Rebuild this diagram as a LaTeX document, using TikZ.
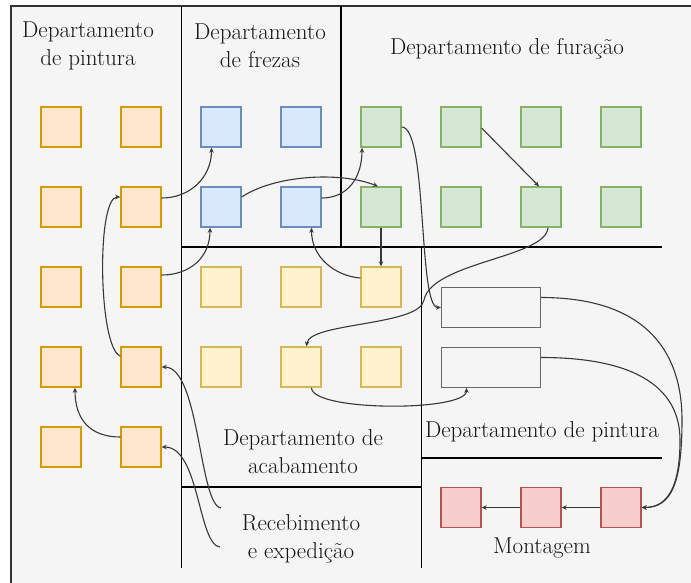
\documentclass[tikz,border=0pt]{standalone}
\usepackage{fontspec}
\usetikzlibrary{arrows.meta,calc}

\definecolor{bgfill}{HTML}{F5F5F5}
\definecolor{orgF}{HTML}{FFE6CC}\definecolor{orgD}{HTML}{D79B00}
\definecolor{bluF}{HTML}{DAE8FC}\definecolor{bluD}{HTML}{6C8EBF}
\definecolor{grnF}{HTML}{D5E8D4}\definecolor{grnD}{HTML}{82B366}
\definecolor{ylwF}{HTML}{FFF2CC}\definecolor{ylwD}{HTML}{D6B656}
\definecolor{redF}{HTML}{F8CECC}\definecolor{redD}{HTML}{B85450}
\definecolor{gryD}{HTML}{666666}

\begin{document}
\begin{tikzpicture}[x=1pt,y=-1pt,
  sq/.style={minimum size=40pt, line width=1.4pt, inner sep=0pt},
  orng/.style={sq, draw=orgD, fill=orgF},
  blu/.style={sq, draw=bluD, fill=bluF},
  grn/.style={sq, draw=grnD, fill=grnF},
  ylw/.style={sq, draw=ylwD, fill=ylwF},
  rd/.style={sq, draw=redD, fill=redF},
  station/.style={minimum width=99pt, minimum height=39.5pt, line width=1.2pt, draw=gryD, inner sep=0pt},
  conn/.style={line width=1.1pt, draw=black!78, -{Stealth[length=5pt,width=4.5pt]}},
  wall/.style={line width=1.6pt, draw=black},
  lbl/.style={font=\fontsize{23}{28}\selectfont, text=black!92, align=center, inner sep=0pt}
]
\useasboundingbox (0,0) rectangle (691,582);
\clip (0,0) rectangle (691,582);
\fill[white] (0,0) rectangle (691,582);
\draw[line width=1.6pt, draw=black!80, fill=bgfill] (11,6) rectangle (710,600);

% department walls
\draw[wall] (181.5,6) -- (181.5,568);
\draw[wall] (341,6) -- (341,247);
\draw[wall] (181.5,247) -- (662,247);
\draw[wall] (421.5,247) -- (421.5,568);
\draw[wall] (181.5,487) -- (421.5,487);
\draw[wall] (421.5,458) -- (662,458);

% painting machines
\foreach \r/\y in {1/127,2/207,3/287,4/367,5/447}{
  \node[orng] (o\r1) at (61,\y) {};
  \node[orng] (o\r2) at (141,\y) {};
}
% milling machines
\node[blu] (b11) at (221,127) {};
\node[blu] (b12) at (301,127) {};
\node[blu] (b21) at (221,207) {};
\node[blu] (b22) at (301,207) {};
% drilling machines
\foreach \c/\x in {1/381,2/461,3/541,4/621}{
  \node[grn] (g1\c) at (\x,127) {};
  \node[grn] (g2\c) at (\x,207) {};
}
% finishing machines
\foreach \c/\x in {1/221,2/301,3/381}{
  \node[ylw] (y1\c) at (\x,287) {};
  \node[ylw] (y2\c) at (\x,367) {};
}
% painting stations
\node[station] (p1) at (491,307.5) {};
\node[station] (p2) at (491,367.5) {};
% assembly
\node[rd] (r1) at (461,507.5) {};
\node[rd] (r2) at (541,507.5) {};
\node[rd] (r3) at (621,507.5) {};

% labels
\node[lbl] (t1) at (88,46) {Departamento\\de pintura};
\node[lbl] (t2) at (260,46) {Departamento\\de frezas};
\node[lbl] (t3) at (507,49) {Departamento de furação};
\node[lbl] (t4) at (303,452) {Departamento de\\acabamento};
\node[lbl] (t5) at (301,539) {Recebimento\\e expedição};
\node[lbl] (t6) at (542,432) {Departamento de pintura};
\node[lbl] (t7) at (542,548) {Montagem};

% material flow
\coordinate (k0) at (221,508);
\coordinate (l0) at (220,547);
\coordinate (iw) at (424,300);
\coordinate (ow) at (682,420);
\coordinate (pw) at (680,440);

\draw[conn] ($(o22.east)+(0,-9)$) .. controls +(28,0) and +(0,30) .. ($(b11.south)+(-9.5,0)$);
\draw[conn] ($(o32.east)+(0,-12)$) .. controls +(28,0) and +(0,30) .. ($(b21.south)+(-11,0)$);
\draw[conn] ($(o42.west)+(0,-11)$) .. controls +(-22,-8) and +(-24,0) .. ($(o22.west)+(0,-10)$);
\draw[conn] ($(b22.east)+(0,-9)$) .. controls +(26,0) and +(0,30) .. ($(g11.south)+(-19,0)$);
\draw[conn] ($(b21.east)+(0,-10)$) .. controls +(33,-22) and +(-38,-15) .. ($(g21.north)+(-3,0)$);
\draw[conn] ($(y13.west)+(0,-9)$) .. controls +(-25,-2) and +(0,30) .. ($(b22.south)+(10.5,0)$);
\draw[conn] (g21.south) -- (y13.north);
\draw[conn] (g11.east) .. controls +(26,0) and +(-23,0) .. (p1.west);
\draw[conn] ($(g23.south)+(7,0)$) .. controls +(-2,30) and +(8,-38) .. (iw)
  .. controls +(-4,26) and +(3,-24) .. ($(y22.north)+(5.5,0)$);
\draw[conn] (k0) .. controls +(-22,-3) and +(38,0) .. (o42.east);
\draw[conn] (l0) .. controls +(-22,-2) and +(38,0) .. (o52.east);
\draw[conn] ($(o52.west)+(0,-10)$) .. controls +(-30,0) and +(0,32) .. ($(o41.south)+(14,0)$);
\draw[conn] ($(y22.south)+(10.5,0)$) .. controls +(0,24) and +(0,24) .. ($(p2.south)+(-24.5,0)$);
\draw[conn] ($(p1.east)+(0,-10)$) .. controls +(103,0) and +(0,-70) .. (ow)
  .. controls +(0,65) and +(29,0) .. (r3.east);
\draw[conn] ($(p2.east)+(0,-10)$) .. controls +(98,0) and +(0,-50) .. (pw)
  .. controls +(0,45) and +(27,0) .. (r3.east);
\draw[conn] ($(g12.east)+(0,1)$) -- ($(g23.north)+(-2,0)$);
\draw[conn] (r3.west) -- (r2.east);
\draw[conn] (r2.west) -- (r1.east);
\end{tikzpicture}
\end{document}
